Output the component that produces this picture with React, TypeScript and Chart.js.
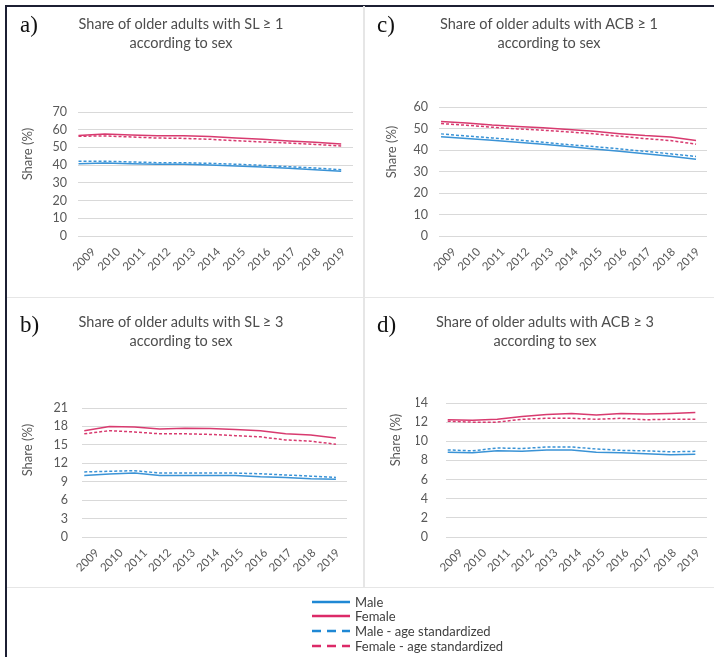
import React, { useEffect, useRef } from 'react';
import { Chart, registerables } from 'chart.js';

Chart.register(...registerables);

// ---------- data ----------
const YEARS = ['2009', '2010', '2011', '2012', '2013', '2014', '2015', '2016', '2017', '2018', '2019'];

// a) SL >= 1
const SL1_MALE = [40.8, 41.2, 40.8, 40.5, 40.5, 40.1, 39.5, 39.0, 38.2, 37.4, 36.5];
const SL1_FEMALE = [56.8, 57.6, 57.0, 56.6, 56.6, 56.1, 55.3, 54.6, 53.6, 52.9, 51.9];
const SL1_MALE_STD = [42.2, 42.2, 41.8, 41.4, 41.4, 41.0, 40.5, 39.9, 39.1, 38.4, 37.4];
const SL1_FEMALE_STD = [56.3, 56.5, 55.9, 55.3, 55.1, 54.6, 53.8, 53.1, 52.5, 51.7, 50.8];

// b) SL >= 3
const SL3_MALE = [10.0, 10.25, 10.4, 10.0, 10.0, 10.0, 10.0, 9.8, 9.7, 9.5, 9.4];
const SL3_FEMALE = [17.3, 18.0, 17.9, 17.6, 17.7, 17.65, 17.5, 17.3, 16.8, 16.6, 16.1];
const SL3_MALE_STD = [10.6, 10.7, 10.8, 10.4, 10.4, 10.4, 10.4, 10.3, 10.1, 9.9, 9.7];
const SL3_FEMALE_STD = [16.8, 17.3, 17.1, 16.8, 16.8, 16.7, 16.5, 16.3, 15.8, 15.6, 15.1];

// c) ACB >= 1
const ACB1_MALE = [46.2, 45.3, 44.5, 43.6, 42.7, 41.6, 40.5, 39.4, 38.2, 37.1, 35.7];
const ACB1_FEMALE = [53.2, 52.6, 51.6, 50.9, 50.4, 49.5, 48.7, 47.6, 46.7, 46.1, 44.4];
const ACB1_MALE_STD = [47.5, 46.5, 45.6, 44.7, 43.6, 42.5, 41.6, 40.5, 39.4, 38.2, 37.0];
const ACB1_FEMALE_STD = [52.3, 51.5, 50.6, 49.8, 49.2, 48.4, 47.5, 46.4, 45.3, 44.4, 42.7];

// d) ACB >= 3
const ACB3_MALE = [8.85, 8.8, 9.0, 8.95, 9.1, 9.1, 8.85, 8.8, 8.7, 8.6, 8.65];
const ACB3_FEMALE = [12.25, 12.2, 12.3, 12.6, 12.8, 12.9, 12.75, 12.9, 12.85, 12.9, 13.0];
const ACB3_MALE_STD = [9.1, 9.0, 9.3, 9.25, 9.4, 9.4, 9.2, 9.05, 9.0, 8.9, 8.95];
const ACB3_FEMALE_STD = [12.1, 12.0, 12.0, 12.3, 12.4, 12.4, 12.3, 12.4, 12.25, 12.3, 12.3];

const SERIES_NAMES = ['Male', 'Female', 'Male - age standardized', 'Female - age standardized'];
const Y_AXIS_TITLE = 'Share (%)';

// ---------- styles ----------
const BLUE = '#3a93d6';
const PINK = '#d83a6f';
const LEGEND_BLUE = '#1f88d4';
const LEGEND_PINK = '#dc2a68';
const FONT = "Lato, 'Open Sans', sans-serif";
const TEXT = '#595959';
const TITLE_TEXT = '#4d4d4d';

type PanelCfg = {
  letter: string;
  title: string[];
  series: number[][];
  yMax: number;
  yStep: number;
  box: { x: number; y: number; w: number; h: number };
  area: { l: number; t: number; r: number; b: number };
  tickPad: number;
  xLead: number;
  xTrail: number;
  letterPos: { x: number; y: number };
  titleCx: number;
  titleTop: number;
  yTitle: { x: number; y: number };
};

const PANELS: PanelCfg[] = [
  {
    letter: 'a)', title: ['Share of older adults with SL \u2265 1', 'according to sex'],
    series: [SL1_MALE, SL1_FEMALE, SL1_MALE_STD, SL1_FEMALE_STD], yMax: 70, yStep: 10,
    box: { x: 6, y: 6, w: 358, h: 291 }, area: { l: 78, t: 112, r: 353, b: 236 }, tickPad: 11,
    xLead: 0.02, xTrail: 0.45,
    letterPos: { x: 20, y: 12 }, titleCx: 181, titleTop: 14, yTitle: { x: 27, y: 154 },
  },
  {
    letter: 'c)', title: ['Share of older adults with ACB \u2265 1', 'according to sex'],
    series: [ACB1_MALE, ACB1_FEMALE, ACB1_MALE_STD, ACB1_FEMALE_STD], yMax: 60, yStep: 10,
    box: { x: 364, y: 6, w: 350, h: 291 }, area: { l: 439, t: 107, r: 707, b: 236 }, tickPad: 11,
    xLead: 0.08, xTrail: 0.43,
    letterPos: { x: 377, y: 12 }, titleCx: 549, titleTop: 14, yTitle: { x: 391, y: 152 },
  },
  {
    letter: 'b)', title: ['Share of older adults with SL \u2265 3', 'according to sex'],
    series: [SL3_MALE, SL3_FEMALE, SL3_MALE_STD, SL3_FEMALE_STD], yMax: 21, yStep: 3,
    box: { x: 6, y: 297, w: 358, h: 290 }, area: { l: 82, t: 408, r: 347, b: 537 }, tickPad: 14,
    xLead: 0.09, xTrail: 0.44,
    letterPos: { x: 20, y: 312 }, titleCx: 181, titleTop: 312, yTitle: { x: 27, y: 450 },
  },
  {
    letter: 'd)', title: ['Share of older adults with ACB \u2265 3', 'according to sex'],
    series: [ACB3_MALE, ACB3_FEMALE, ACB3_MALE_STD, ACB3_FEMALE_STD], yMax: 14, yStep: 2,
    box: { x: 364, y: 297, w: 350, h: 290 }, area: { l: 446, t: 403, r: 711, b: 537 }, tickPad: 18,
    xLead: 0.07, xTrail: 0.47,
    letterPos: { x: 377, y: 312 }, titleCx: 545, titleTop: 312, yTitle: { x: 395, y: 440 },
  },
];

const Y_AXIS_W = 30;
const X_AXIS_H = 40;

function Panel({ cfg }: { cfg: PanelCfg }) {
  const ref = useRef<HTMLCanvasElement>(null);
  useEffect(() => {
    if (!ref.current) return;
    const { box, area } = cfg;
    const localL = area.l - box.x;
    const localT = area.t - box.y;
    const localR = area.r - box.x;
    const localB = area.b - box.y;
    const colors = [BLUE, PINK, BLUE, PINK];
    const dashed = [false, false, true, true];
    const firstYear = Number(YEARS[0]);
    const lastYear = Number(YEARS[YEARS.length - 1]);
    const chart = new Chart(ref.current, {
      type: 'line',
      data: {
        labels: YEARS,
        datasets: cfg.series.map((s, i) => ({
          label: SERIES_NAMES[i],
          data: YEARS.map((yr, k) => ({ x: Number(yr), y: s[k] })),
          xAxisID: 'xd',
          borderColor: colors[i],
          backgroundColor: colors[i],
          borderWidth: 1.5,
          borderDash: dashed[i] ? [3, 2] : [],
          pointRadius: 0,
          tension: 0,
          fill: false,
        })),
      },
      options: {
        animation: false,
        responsive: false,
        maintainAspectRatio: false,
        layout: {
          padding: {
            left: localL - Y_AXIS_W,
            top: localT,
            right: box.w - localR,
            bottom: box.h - localB - X_AXIS_H,
          },
        },
        plugins: { legend: { display: false }, title: { display: false }, tooltip: { enabled: false } },
        scales: {
          x: {
            type: 'category',
            offset: true,
            grid: { display: false, drawTicks: false },
            border: { display: false },
            ticks: {
              minRotation: 45, maxRotation: 45, autoSkip: false,
              padding: 9, labelOffset: 3,
              color: TEXT, font: { family: FONT, size: 11.5 },
            },
            afterFit: (s: any) => { s.height = X_AXIS_H; },
          },
          xd: {
            type: 'linear',
            display: false,
            min: firstYear - cfg.xLead,
            max: lastYear + cfg.xTrail,
          },
          y: {
            min: 0, max: cfg.yMax,
            grid: { color: '#d9d9d9', lineWidth: 1, drawTicks: false },
            border: { display: false },
            ticks: { stepSize: cfg.yStep, autoSkip: false, padding: cfg.tickPad, color: TEXT, font: { family: FONT, size: 12.5 } },
            afterFit: (s: any) => { s.width = Y_AXIS_W; },
          },
        },
      },
    });
    return () => chart.destroy();
  }, [cfg]);

  return (
    <>
      <canvas
        ref={ref}
        width={cfg.box.w}
        height={cfg.box.h}
        style={{ position: 'absolute', left: cfg.box.x, top: cfg.box.y, width: cfg.box.w, height: cfg.box.h }}
      />
      <div style={{ position: 'absolute', left: cfg.letterPos.x, top: cfg.letterPos.y, fontFamily: "'Liberation Serif', 'DejaVu Serif', serif", fontSize: 23, lineHeight: '26px', color: '#111' }}>
        {cfg.letter}
      </div>
      <div style={{ position: 'absolute', left: cfg.titleCx - 150, width: 300, top: cfg.titleTop, textAlign: 'center', fontFamily: FONT, fontSize: 14.5, lineHeight: '19px', color: TITLE_TEXT, whiteSpace: 'nowrap' }}>
        {cfg.title.map((t, i) => <div key={i}>{t}</div>)}
      </div>
      <div style={{ position: 'absolute', left: cfg.yTitle.x - 50, top: cfg.yTitle.y - 10, width: 100, height: 20, lineHeight: '20px', textAlign: 'center', transform: 'rotate(-90deg)', fontFamily: FONT, fontSize: 13, color: TEXT, whiteSpace: 'nowrap' }}>
        {Y_AXIS_TITLE}
      </div>
    </>
  );
}

function LegendLine({ color, dashed }: { color: string; dashed: boolean }) {
  return (
    <svg width={40} height={6} style={{ display: 'block' }}>
      <line x1={0} y1={3} x2={38} y2={3} stroke={color} strokeWidth={2.5} strokeDasharray={dashed ? '9 6' : undefined} />
    </svg>
  );
}

export default function App() {
  const legendColors = [LEGEND_BLUE, LEGEND_PINK, LEGEND_BLUE, LEGEND_PINK];
  const legendDashed = [false, false, true, true];
  const legendRowsY = [602, 616, 631, 646];
  return (
    <div style={{ position: 'absolute', left: 0, top: 0, width: 714, height: 657, background: '#fff', overflow: 'hidden' }}>
      {/* frame */}
      <div style={{ position: 'absolute', left: 5, top: 5, width: 709, height: 1.5, background: '#1c1f33' }} />
      <div style={{ position: 'absolute', left: 5, top: 5, width: 1.5, height: 652, background: '#1c1f33' }} />
      <div style={{ position: 'absolute', left: 363, top: 6, width: 1.5, height: 581, background: '#e6e6e6' }} />
      <div style={{ position: 'absolute', left: 6.5, top: 296.5, width: 708, height: 1.5, background: '#e6e6e6' }} />
      <div style={{ position: 'absolute', left: 6.5, top: 586.5, width: 708, height: 1.5, background: '#e6e6e6' }} />
      {PANELS.map((p) => <Panel key={p.letter} cfg={p} />)}
      {SERIES_NAMES.map((name, i) => (
        <div key={name} style={{ position: 'absolute', left: 312, top: legendRowsY[i] - 8, height: 16, display: 'flex', alignItems: 'center' }}>
          <LegendLine color={legendColors[i]} dashed={legendDashed[i]} />
          <span style={{ marginLeft: 3, fontFamily: FONT, fontSize: 13, color: '#404040', whiteSpace: 'nowrap' }}>{name}</span>
        </div>
      ))}
    </div>
  );
}
